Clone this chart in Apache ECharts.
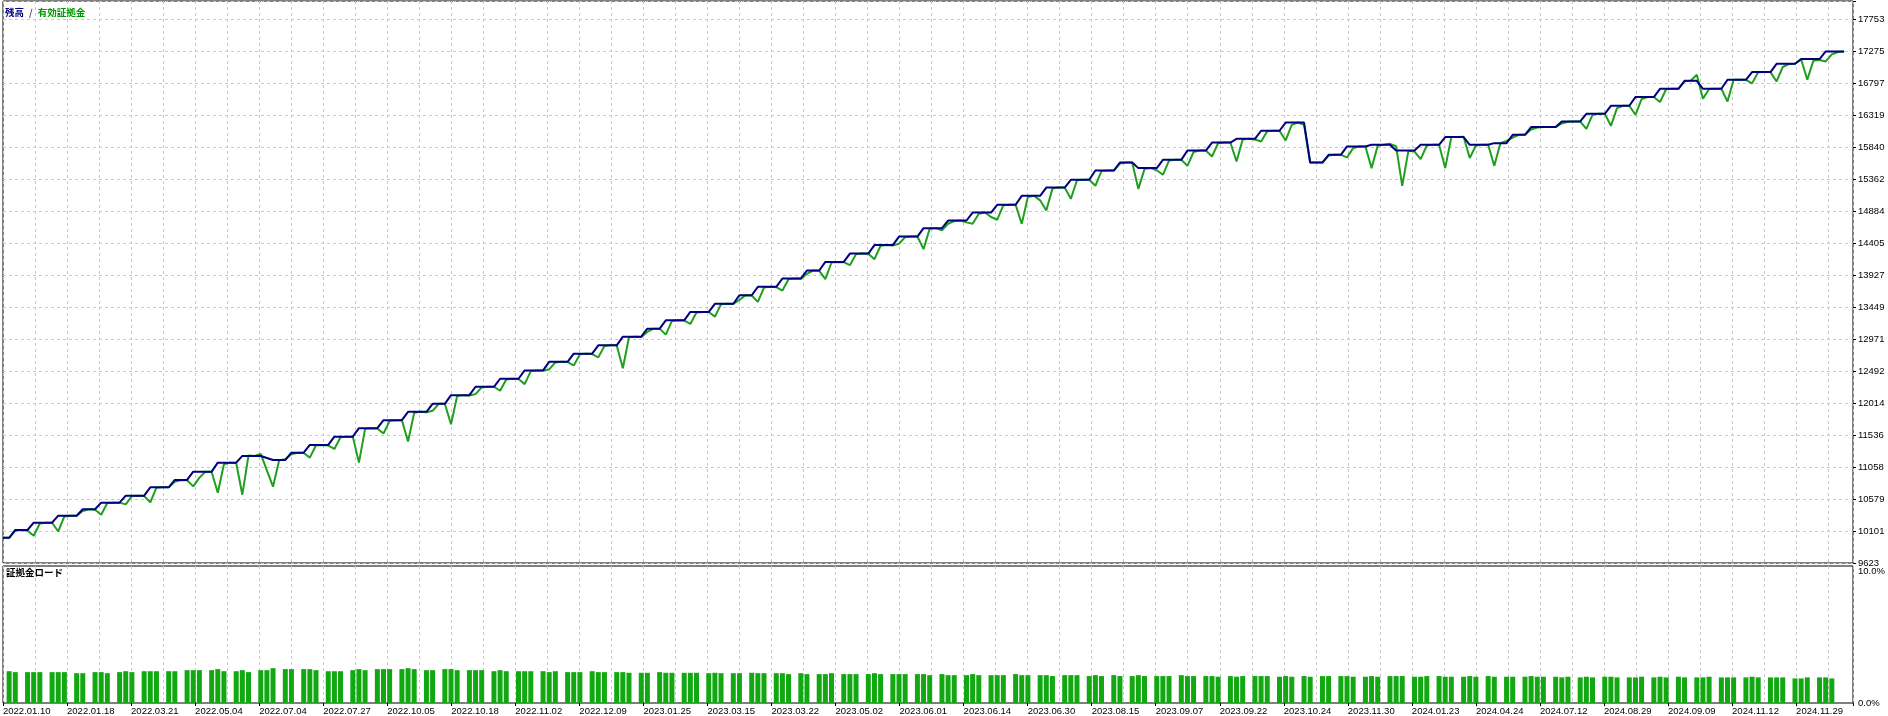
<!DOCTYPE html>
<html><head><meta charset="utf-8">
<script src="https://cdn.jsdelivr.net/npm/echarts@6/dist/echarts.min.js"></script>
<style>html,body{margin:0;padding:0;background:#fff}#c{width:1888px;height:716px}</style>
</head><body><div id="c"></div><script>
const dateLabels = ['2022.01.10','2022.01.18','2022.03.21','2022.05.04','2022.07.04','2022.07.27','2022.10.05','2022.10.18','2022.11.02','2022.12.09','2023.01.25','2023.03.15','2023.03.22','2023.05.02','2023.06.01','2023.06.14','2023.06.30','2023.08.15','2023.09.07','2023.09.22','2023.10.24','2023.11.30','2024.01.23','2024.04.24','2024.07.12','2024.08.29','2024.09.09','2024.11.12','2024.11.29'];
const yLabels = ['9623','10101','10579','11058','11536','12014','12492','12971','13449','13927','14405','14884','15362','15840','16319','16797','17275','17753'];
const balance = [
10000,
10000,10117,10117,
10117,10226,10226,10226,
10226,10331,10331,10331,
10331,10427,10427,
10427,10526,10526,10526,
10526,10631,10631,10631,
10631,10756,10756,10756,
10756,10866,10866,
10866,10990,10990,10990,
10990,11125,11125,11125,
11125,11225,11225,11225,
11225,11195,11165,11165,
11165,11274,11274,
11274,11390,11390,11390,
11390,11514,11514,11514,
11514,11640,11640,11640,
11640,11760,11760,11760,
11760,11885,11885,11885,
11885,12005,12005,
12005,12135,12135,12135,
12135,12260,12260,12260,
12260,12380,12380,12380,
12380,12505,12505,12505,
12505,12633,12633,12633,
12633,12755,12755,12755,
12755,12880,12880,12880,
12880,13010,13010,13010,
13010,13130,13130,
13130,13255,13255,13255,
13255,13380,13380,13380,
13380,13502,13502,13502,
13502,13630,13630,
13630,13755,13755,13755,
13755,13880,13880,13880,
13880,14000,14000,
14000,14128,14128,14128,
14128,14253,14253,14253,
14253,14380,14380,14380,
14380,14508,14508,14508,
14508,14634,14634,14634,
14634,14748,14748,14748,
14748,14867,14867,14867,
14867,14983,14983,14983,
14983,15117,15117,15117,
15117,15241,15241,15241,
15241,15357,15357,15357,
15357,15496,15496,15496,
15496,15616,15616,
15616,15532,15532,15532,
15532,15656,15656,15656,
15656,15795,15795,15795,
15795,15915,15915,15915,
15915,15970,15970,15970,
15970,16091,16091,16091,
16091,16214,16214,16214,
16214,15616,15616,
15616,15731,15731,
15731,15856,15856,15856,
15856,15881,15881,15881,
15881,15795,15795,15795,
15795,15881,15881,15881,
15881,15996,15996,15996,
15996,15881,15881,15881,
15881,15906,15906,
15906,16030,16030,
16030,16146,16146,16146,16146,
16146,16230,16230,16230,
16230,16345,16345,16345,
16345,16465,16465,16465,
16465,16595,16595,16595,
16595,16719,16719,16719,
16719,16839,16839,
16839,16719,16719,16719,
16719,16854,16854,16854,
16854,16969,16969,16969,
16969,17093,17093,17093,
17093,17164,17164,17164,
17164,17278,17278,17278,
17278
];
const equity = [
10000,
10000,10105,10117,
10105,10030,10215,10226,
10226,10095,10320,10331,
10331,10400,10427,
10420,10345,10520,10526,
10526,10500,10625,10631,
10625,10530,10750,10756,
10756,10840,10866,
10860,10770,10900,10990,
10985,10675,11100,11125,
11120,10645,11230,11225,
11255,11010,10765,11160,
11175,11250,11274,
11270,11200,11385,11390,
11380,11330,11505,11514,
11514,11125,11630,11640,
11635,11560,11750,11760,
11760,11440,11870,11885,
11880,11900,12005,
12005,11700,12120,12135,
12130,12150,12250,12260,
12260,12200,12370,12380,
12375,12300,12495,12505,
12505,12520,12625,12633,
12630,12580,12745,12755,
12750,12700,12870,12880,
12880,12538,13000,13010,
13005,13080,13130,
13130,13040,13245,13255,
13250,13200,13370,13380,
13380,13310,13495,13502,
13500,13560,13630,
13625,13530,13745,13755,
13750,13700,13870,13880,
13875,13950,14000,
13995,13870,14120,14128,
14125,14080,14245,14253,
14250,14170,14370,14380,
14375,14400,14500,14508,
14508,14320,14625,14634,
14600,14700,14740,14748,
14720,14700,14850,14867,
14800,14760,14975,14983,
14983,14698,15100,15117,
15050,14897,15225,15241,
15241,15072,15350,15357,
15357,15267,15490,15496,
15496,15600,15616,
15616,15221,15517,15532,
15500,15432,15645,15656,
15656,15566,15773,15795,
15795,15706,15905,15915,
15915,15632,15960,15970,
15960,15930,16085,16091,
16091,15946,16180,16214,
16180,15616,15616,
15616,15720,15731,
15731,15692,15831,15856,
15856,15532,15866,15881,
15895,15860,15267,15790,
15780,15667,15870,15881,
15881,15532,15996,15996,
16000,15682,15870,15881,
15881,15566,15906,
15940,15990,16030,
16030,16110,16140,16146,16146,
16146,16200,16225,16230,
16230,16120,16330,16345,
16345,16165,16430,16465,
16465,16330,16565,16595,
16595,16520,16713,16719,
16719,16830,16839,
16930,16569,16715,16719,
16719,16529,16854,16854,
16854,16800,16965,16969,
16969,16829,17045,17090,
17093,17160,16854,17140,
17150,17128,17233,17270,
17278
];
const marginLoad = [
null,
2.42,2.35,null,
2.35,2.35,2.35,null,
2.35,2.35,2.35,null,
2.27,2.27,null,
2.35,2.35,2.27,null,
2.35,2.42,2.35,null,
2.42,2.42,2.42,null,
2.42,2.42,null,
2.5,2.5,2.5,null,
2.5,2.58,2.42,null,
2.42,2.5,2.35,null,
2.5,2.5,2.65,null,
2.58,2.58,null,
2.58,2.58,2.5,null,
2.42,2.42,2.42,null,
2.5,2.58,2.5,null,
2.58,2.58,2.58,null,
2.58,2.65,2.58,null,
2.5,2.5,null,
2.58,2.58,2.5,null,
2.5,2.5,2.5,null,
2.42,2.5,2.42,null,
2.42,2.42,2.42,null,
2.42,2.35,2.42,null,
2.35,2.35,2.35,null,
2.42,2.35,2.35,null,
2.35,2.35,2.3,null,
2.3,2.3,null,
2.35,2.3,2.3,null,
2.3,2.3,2.3,null,
2.27,2.3,2.27,null,
2.27,2.27,null,
2.3,2.27,2.27,null,
2.27,2.27,2.2,null,
2.27,2.2,null,
2.2,2.2,2.27,null,
2.2,2.2,2.2,null,
2.2,2.27,2.2,null,
2.2,2.2,2.2,null,
2.2,2.2,2.12,null,
2.2,2.12,2.12,null,
2.12,2.2,2.12,null,
2.12,2.12,2.12,null,
2.2,2.12,2.12,null,
2.12,2.12,2.05,null,
2.12,2.12,2.12,null,
2.05,2.12,2.05,null,
2.12,2.05,null,
2.05,2.12,2.05,null,
2.05,2.05,2.05,null,
2.12,2.05,2.05,null,
2.05,2.05,2.0,null,
2.05,2.0,2.05,null,
2.05,2.05,2.05,null,
2.0,2.05,2.0,null,
2.05,2.0,null,
2.05,2.05,null,
2.05,2.05,2.0,null,
2.0,2.05,2.0,null,
2.05,2.05,2.05,null,
2.0,2.0,2.05,null,
2.05,2.0,2.0,null,
2.0,2.05,2.0,null,
2.05,2.0,null,
2.0,2.0,null,
2.0,2.05,2.0,2.0,null,
2.0,1.95,2.0,null,
1.95,2.0,1.95,null,
2.0,2.0,1.95,null,
1.95,1.95,2.0,null,
1.95,2.0,1.95,null,
2.0,1.95,null,
1.95,1.95,2.0,null,
1.95,1.95,1.95,null,
1.95,2.0,1.95,null,
1.95,1.95,1.95,null,
1.87,1.87,1.95,null,
1.95,1.95,1.87,null,
null
];

const X_MAX = 301.45;       // axis extent in deal-index units
const X_STEP = 5.2175;      // grid spacing in deal-index units
const Y_MIN = 9623, Y_STEP = 478.235, Y_UNITS = 17.585;
const PCT_MAX = 10.43;

const chart = echarts.init(document.getElementById('c'), null, {renderer: 'canvas'});
const dash = {color: '#c8c8c8', type: [3, 3], width: 1};
const numFont = {fontFamily: 'Liberation Sans', fontSize: 9.5, color: '#000'};

chart.setOption({
  animation: false,
  backgroundColor: '#fff',
  title: [
    {left: 5, top: 3, padding: 0,
     text: '{b|残高} {s|/} {g|有効証拠金}',
     textStyle: {rich: {
       b: {color: '#000080', fontSize: 9.5, fontFamily: 'Noto Sans CJK JP', fontWeight: 'bold'},
       s: {color: '#555', fontSize: 9.5, fontFamily: 'Noto Sans CJK JP'},
       g: {color: '#009a00', fontSize: 9.5, fontFamily: 'Noto Sans CJK JP', fontWeight: 'bold'}
     }}},
    {left: 6, top: 568, padding: 0, text: '証拠金ロード',
     textStyle: {color: '#000', fontSize: 9.5, fontFamily: 'Noto Sans CJK JP', fontWeight: 'bold'}}
  ],
  grid: [
    {left: 3, top: 1, width: 1850, height: 562, show: true, borderColor: '#000', borderWidth: 1, backgroundColor: '#fff'},
    {left: 3, top: 566, width: 1850, height: 137, show: true, borderColor: '#000', borderWidth: 1, backgroundColor: '#fff'}
  ],
  xAxis: [
    {gridIndex: 0, type: 'value', min: 0, max: X_MAX, interval: X_STEP,
     axisLine: {show: false}, axisTick: {show: false}, axisLabel: {show: false},
     splitLine: {show: true, lineStyle: dash}},
    {gridIndex: 1, type: 'value', position: 'top', min: 0, max: X_MAX, interval: X_STEP,
     axisLine: {show: false}, axisTick: {show: false}, axisLabel: {show: false},
     splitLine: {show: true, lineStyle: dash}},
    {gridIndex: 1, type: 'value', position: 'bottom', min: 0, max: X_MAX, interval: X_STEP * 2,
     axisLine: {show: false},
     axisTick: {show: true, length: 3, lineStyle: {color: '#000'}},
     splitLine: {show: false},
     axisLabel: Object.assign({show: true, align: 'left', margin: 3,
       formatter: function (v) {
         const k = Math.round(v / (X_STEP * 2));
         if (Math.abs(v - k * X_STEP * 2) > 1e-3) return '';
         return dateLabels[k] || '';
       }}, numFont)}
  ],
  yAxis: [
    {gridIndex: 0, type: 'value', min: Y_MIN, max: Y_MIN + Y_STEP * Y_UNITS, show: false},
    {gridIndex: 0, type: 'value', position: 'right', min: 0, max: Y_UNITS, interval: 1,
     axisLine: {show: false},
     axisTick: {show: true, length: 3, lineStyle: {color: '#000'}},
     splitLine: {show: true, lineStyle: dash},
     axisLabel: Object.assign({margin: 5, formatter: function (v) {
       const k = Math.round(v);
       if (Math.abs(v - k) > 1e-6) return '';
       return yLabels[k] || '';
     }}, numFont)},
    {gridIndex: 1, type: 'value', position: 'right', min: 0, max: PCT_MAX, interval: 10,
     axisLine: {show: false}, axisTick: {show: false}, splitLine: {show: false},
     axisLabel: Object.assign({margin: 5, formatter: function (v) {
       if (v === 0) return '0.0%';
       if (v === 10) return '10.0%';
       return '';
     }}, numFont)}
  ],
  series: [
    {name: '有効証拠金', type: 'line', xAxisIndex: 0, yAxisIndex: 0, z: 2,
     symbol: 'none', silent: true,
     lineStyle: {color: '#1ea01e', width: 2}, itemStyle: {color: '#1ea01e'},
     data: equity.map((v, i) => [i, v])},
    {name: '残高', type: 'line', xAxisIndex: 0, yAxisIndex: 0, z: 3,
     symbol: 'none', silent: true,
     lineStyle: {color: '#000080', width: 2}, itemStyle: {color: '#000080'},
     data: balance.map((v, i) => [i, v])},
    {name: '証拠金ロード', type: 'bar', xAxisIndex: 2, yAxisIndex: 2, barWidth: 5, silent: true,
     itemStyle: {color: '#12a812'},
     data: marginLoad.map((v, i) => v == null ? null : [i, v]).filter(d => d)}
  ]
});
</script></body></html>
